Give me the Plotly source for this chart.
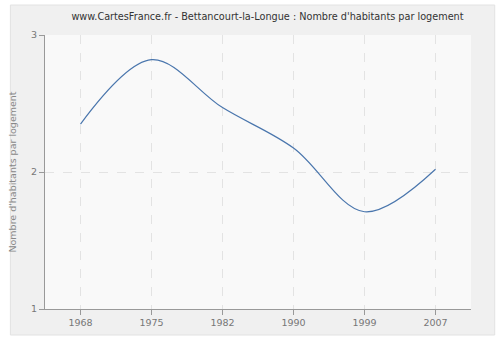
import plotly.graph_objects as go

years = ["1968", "1975", "1982", "1990", "1999", "2007"]
values = [2.35, 2.82, 2.47, 2.175, 1.71, 2.02]
y_ticks = [1, 2, 3]

fig = go.Figure()
fig.add_trace(go.Scatter(
    x=years, y=values, mode="lines",
    line=dict(color="#4a76ad", width=1.2, shape="spline", smoothing=1.0),
    hoverinfo="skip", showlegend=False,
))

fig.update_layout(
    width=500, height=340,
    margin=dict(l=40, r=29, t=35, b=31),
    paper_bgcolor="#ffffff",
    plot_bgcolor="#f9f9f9",
    title=dict(
        text="www.CartesFrance.fr - Bettancourt-la-Longue : Nombre d'habitants par logement",
        x=0.535, xanchor="center", xref="container", y=0.95, yanchor="middle",
        font=dict(family="DejaVu Sans", size=9.7, color="#333333"),
    ),
    font=dict(family="DejaVu Sans", size=10, color="#777777"),
    shapes=[
        dict(
            type="rect", xref="paper", yref="paper", layer="below",
            x0=-35/431, x1=(431+24)/431, y0=-26/274, y1=(274+30)/274,
            fillcolor="#f0f0f0", line=dict(color="#e2e2e2", width=1),
        ),
        dict(
            type="rect", xref="paper", yref="paper", layer="below",
            x0=0, x1=1, y0=0, y1=1,
            fillcolor="#f9f9f9", line=dict(width=0),
        ),
    ],
)
fig.update_xaxes(
    type="category", range=[-0.5, 5.5],
    showline=True, linecolor="#999999", linewidth=1,
    ticks="outside", ticklen=5, tickcolor="#999999",
    showgrid=True, gridcolor="#e3e3e3", griddash="dash", gridwidth=1,
    tickfont=dict(size=9.5, color="#777777"), fixedrange=True,
)
fig.update_yaxes(
    range=[1, 3], tickvals=y_ticks, ticktext=[str(v) for v in y_ticks],
    showline=True, linecolor="#999999", linewidth=1,
    ticks="outside", ticklen=5, tickcolor="#999999",
    showgrid=True, gridcolor="#e3e3e3", griddash="dash", gridwidth=1,
    zeroline=False,
    title=dict(text="Nombre d'habitants par logement", font=dict(size=9.5, color="#888888"), standoff=12),
    tickfont=dict(size=9.5, color="#777777"), fixedrange=True,
)

fig.write_html("out.html")
